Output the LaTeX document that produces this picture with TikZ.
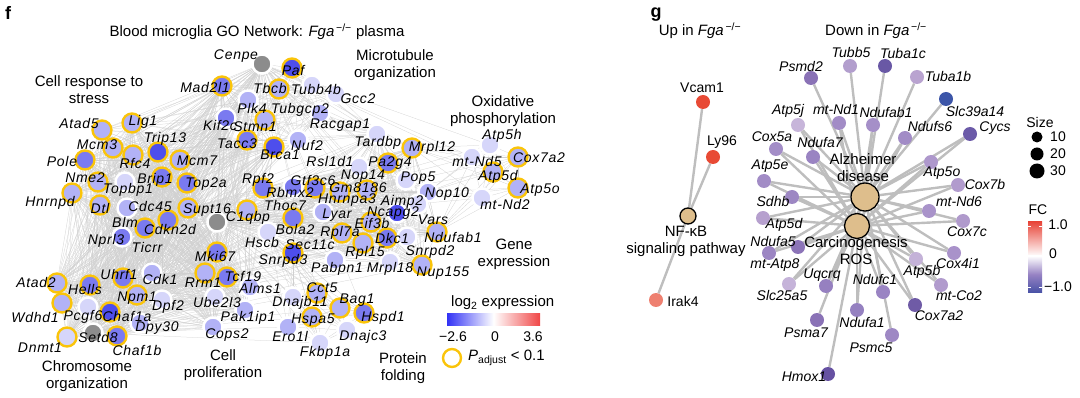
\documentclass[tikz,border=0pt]{standalone}
\usepackage{fontspec}
\setmainfont{Liberation Sans}
\newfontfamily\flab[LetterSpace=5]{Liberation Sans}
\usetikzlibrary{backgrounds}
\definecolor{fD}{RGB}{78,78,236}
\definecolor{fM}{RGB}{122,122,240}
\definecolor{fL}{RGB}{178,178,246}
\definecolor{fV}{RGB}{214,214,250}
\definecolor{fG}{RGB}{140,140,140}
\definecolor{ringY}{RGB}{250,196,10}
\definecolor{fe}{RGB}{208,208,208}
\definecolor{ge}{RGB}{190,190,190}
\definecolor{hubF}{RGB}{222,190,140}
\definecolor{lbB}{RGB}{50,50,245}
\definecolor{lbR}{RGB}{240,70,70}
\definecolor{fcR}{RGB}{232,70,58}
\definecolor{fcP}{RGB}{150,130,195}
\definecolor{fcB}{RGB}{70,80,165}
\newcommand\fnd[5]{\node[fnode,fill=#4,draw=#5] (#1) at (#2,#3) {};}
\newcommand\flb[3]{\node[flbl] (l-#1) at (#2,#3) {#1};}
\newcommand\gnd[4]{\definecolor{tmpc}{HTML}{#4}\node[gnode,fill=tmpc] (#1) at (#2,#3) {};}
\newcommand\glb[4]{\node[glbl] (l-#1) at (#3,#4) {#2};}
\newcommand\allpairs[1]{\foreach \a [count=\i] in {#1} {\foreach \b [count=\j] in {#1} {\ifnum\j>\i\relax \draw[fedge] (\a) -- (\b);\fi}}}
\newcommand\fanout[2]{\foreach \b in {#2} {\draw[fedge] (#1) -- (\b);}}
\begin{document}
\begin{tikzpicture}[x=1pt,y=-1pt,
  fnode/.style={circle,inner sep=0pt,minimum size=19pt,line width=2.4pt},
  flbl/.style={inner sep=0pt,font=\flab\itshape\fontsize{14}{14}\selectfont},
  glbl/.style={inner sep=0pt,font=\itshape\fontsize{14}{14}\selectfont},
  ulbl/.style={inner sep=0pt,font=\fontsize{14}{14}\selectfont},
  ttl/.style={inner sep=0pt,align=center,font=\fontsize{15}{17}\selectfont},
  gnode/.style={circle,inner sep=0pt,minimum size=14pt},
  hub/.style={circle,inner sep=0pt,fill=hubF,draw=black,line width=1.3pt},
  fedge/.style={draw=fe,line width=0.25pt},
  gedge/.style={draw=ge,line width=2.4pt}]
\useasboundingbox (0,0) rectangle (1080,398);
% ---------- panel f ----------
\node[inner sep=0pt,font=\bfseries\fontsize{18}{18}\selectfont] (pf) at (8,13) {f};
\node[ttl] (ftitle) at (257,32) {Blood microglia GO Network: \textit{Fga}\textsuperscript{\,−/−} plasma};
\fnd{Cenpe}{262}{64}{fG}{white}
\fnd{Mad2l1}{222}{86}{fM}{ringY}
\fnd{Paf}{292}{68}{fD}{ringY}
\fnd{Tbcb}{279}{89}{fL}{ringY}
\fnd{Tubb4b}{312}{85}{fV}{white}
\fnd{Gcc2}{336}{94}{fV}{white}
\fnd{Plk4}{248}{100}{fL}{white}
\fnd{Kif2c}{226}{118}{fM}{white}
\fnd{Tubgcp2}{320}{113}{fL}{white}
\fnd{Stmn1}{265}{120}{fL}{ringY}
\fnd{Tacc3}{247}{140}{fM}{ringY}
\fnd{Brca1}{274}{147}{fD}{ringY}
\fnd{Nuf2}{298}{140}{fL}{white}
\fnd{Tardbp}{377}{134}{fV}{white}
\fnd{Lig1}{132}{123}{fL}{ringY}
\fnd{Atad5}{102}{130}{fL}{ringY}
\fnd{Mcm3}{113}{148}{fL}{ringY}
\fnd{Trip13}{158}{152}{fD}{ringY}
\fnd{Rfc4}{133}{155}{fL}{ringY}
\fnd{Mcm7}{180}{160}{fL}{ringY}
\fnd{Pole}{85}{160}{fM}{ringY}
\fnd{Nme2}{98}{182}{fL}{ringY}
\fnd{Hnrnpd}{72}{193}{fL}{ringY}
\fnd{Topbp1}{125}{182}{fV}{white}
\fnd{Brip1}{162}{177}{fM}{ringY}
\fnd{Top2a}{187}{183}{fM}{ringY}
\fnd{Dtl}{100}{205}{fL}{ringY}
\fnd{Cdc45}{127}{208}{fL}{white}
\fnd{Cdkn2d}{168}{220}{fM}{ringY}
\fnd{Ticrr}{145}{228}{fM}{ringY}
\fnd{Nprl3}{122}{237}{fM}{white}
\fnd{Supt16}{188}{208}{fL}{ringY}
\fnd{hubc}{217}{222}{fG}{white}
\fnd{Mki67}{217}{252}{fM}{ringY}
\fnd{Atad2}{57}{283}{fL}{ringY}
\fnd{Hells}{90}{285}{fM}{ringY}
\fnd{Uhrf1}{123}{278}{fM}{ringY}
\fnd{Cdk1}{152}{273}{fL}{white}
\fnd{Npm1}{137}{295}{fL}{ringY}
\fnd{Dpf2}{162}{300}{fV}{white}
\fnd{Wdhd1}{62}{303}{fL}{ringY}
\fnd{Pcgf6}{88}{307}{fV}{white}
\fnd{Chaf1a}{110}{312}{fD}{ringY}
\fnd{Dpy30}{140}{323}{fL}{white}
\fnd{Dnmt1}{67}{337}{fV}{ringY}
\fnd{Setd8}{93}{333}{fG}{white}
\fnd{Chaf1b}{117}{336}{fM}{ringY}
\fnd{Rrm1}{205}{273}{fL}{ringY}
\fnd{Tcf19}{227}{277}{fM}{ringY}
\fnd{Alms1}{250}{287}{fL}{white}
\fnd{Ube2l3}{215}{297}{fV}{white}
\fnd{Pak1ip1}{245}{310}{fL}{white}
\fnd{Cops2}{213}{327}{fL}{white}
\fnd{Rpf2}{263}{188}{fM}{ringY}
\fnd{Rbmx2}{293}{187}{fM}{white}
\fnd{Gtf3c6}{315}{188}{fM}{ringY}
\fnd{C1qbp}{247}{210}{fL}{ringY}
\fnd{Bola2}{293}{218}{fM}{ringY}
\fnd{Hscb}{268}{232}{fV}{white}
\fnd{Sec11c}{293}{253}{fD}{ringY}
\fnd{Rsl1d1}{359}{167}{fV}{white}
\fnd{Pa2g4}{388}{163}{fM}{ringY}
\fnd{Mrpl12}{412}{148}{fL}{ringY}
\fnd{Pop5}{406}{180}{fV}{white}
\fnd{Nop10}{428}{192}{fL}{white}
\fnd{Gm8186}{367}{190}{fL}{ringY}
\fnd{Hnrnpa3}{340}{192}{fL}{ringY}
\fnd{Aimp2}{418}{204}{fV}{white}
\fnd{Ncapg2}{397}{213}{fD}{white}
\fnd{Lyar}{323}{212}{fL}{white}
\fnd{Eif3b}{371}{222}{fL}{ringY}
\fnd{Rpl7a}{342}{233}{fL}{ringY}
\fnd{Dkc1}{387}{238}{fM}{ringY}
\fnd{Rpl15}{363}{243}{fL}{ringY}
\fnd{Snrpd2}{407}{237}{fV}{white}
\fnd{Ndufab1}{437}{232}{fL}{ringY}
\fnd{Nup155}{422}{265}{fL}{ringY}
\fnd{Mrpl18}{390}{262}{fV}{white}
\fnd{Pabpn1}{335}{260}{fL}{white}
\fnd{Atp5h}{490}{145}{fV}{white}
\fnd{mt-Nd5}{472}{157}{fV}{white}
\fnd{Cox7a2}{518}{157}{fL}{ringY}
\fnd{Atp5d}{493}{172}{fL}{ringY}
\fnd{Atp5o}{518}{188}{fL}{ringY}
\fnd{mt-Nd2}{482}{198}{fV}{white}
\fnd{Cct5}{317}{293}{fL}{ringY}
\fnd{Dnajb11}{293}{297}{fV}{white}
\fnd{Bag1}{340}{308}{fL}{ringY}
\fnd{Hspd1}{364}{313}{fM}{ringY}
\fnd{Hspa5}{312}{317}{fL}{ringY}
\fnd{Ero1l}{288}{327}{fL}{white}
\fnd{Dnajc3}{347}{330}{fV}{white}
\fnd{Fkbp1a}{320}{343}{fV}{white}
% labels f
\flb{Cenpe}{236}{56}\flb{Mad2l1}{205}{88}\flb{Paf}{293}{70}\flb{Tbcb}{270}{88}
\flb{Tubb4b}{316}{89}\flb{Gcc2}{358}{99}\flb{Plk4}{252}{108}\flb{Kif2c}{220}{125}
\flb{Tubgcp2}{300}{110}\flb{Stmn1}{255}{127}\flb{Tacc3}{237}{144}\flb{Brca1}{280}{155}
\flb{Nuf2}{307}{145}\flb{Racgap1}{340}{125}\flb{Tardbp}{378}{143}\flb{Mrpl12}{432}{148}
\flb{Lig1}{143}{122}\flb{Atad5}{79}{124}\flb{Mcm3}{97}{145}\flb{Trip13}{165}{139}
\flb{Rfc4}{135}{163}\flb{Mcm7}{197}{161}\flb{Pole}{62}{161}\flb{Nme2}{85}{178}
\flb{Hnrnpd}{50}{203}\flb{Topbp1}{128}{190}\flb{Brip1}{155}{180}\flb{Top2a}{206}{184}
\flb{Dtl}{100}{208}\flb{Cdc45}{150}{207}\flb{Blm}{125}{222}\flb{Cdkn2d}{170}{230}
\flb{Nprl3}{106}{241}\flb{Ticrr}{147}{247}\flb{Supt16}{207}{210}\flb{Mki67}{215}{256}
\flb{Atad2}{36}{283}\flb{Hells}{85}{289}\flb{Uhrf1}{119}{274}\flb{Cdk1}{160}{280}
\flb{Npm1}{137}{298}\flb{Dpf2}{168}{307}\flb{Wdhd1}{35}{317}\flb{Pcgf6}{83}{317}
\flb{Chaf1a}{127}{316}\flb{Dpy30}{157}{328}\flb{Dnmt1}{40}{348}\flb{Setd8}{98}{338}
\flb{Chaf1b}{137}{350}\flb{Rrm1}{203}{283}\flb{Tcf19}{243}{276}\flb{Alms1}{260}{288}
\flb{Ube2l3}{217}{302}\flb{Pak1ip1}{248}{318}\flb{Cops2}{227}{335}
\flb{Rpf2}{258}{180}\flb{Rbmx2}{290}{192}\flb{Gtf3c6}{313}{180}\flb{C1qbp}{248}{218}
\flb{Thoc7}{285}{205}\flb{Bola2}{295}{229}\flb{Hscb}{262}{242}\flb{Sec11c}{310}{245}
\flb{Snrpd3}{283}{261}\flb{Rsl1d1}{330}{162}\flb{Pa2g4}{390}{163}\flb{Nop14}{363}{176}
\flb{Pop5}{418}{178}\flb{Gm8186}{358}{188}\flb{Hnrnpa3}{347}{200}\flb{Aimp2}{402}{202}
\flb{Nop10}{447}{194}\flb{Lyar}{337}{215}\flb{Ncapg2}{393}{213}\flb{Eif3b}{372}{223}
\flb{Vars}{433}{220}\flb{Rpl7a}{340}{233}\flb{Dkc1}{392}{238}\flb{Rpl15}{365}{253}
\flb{Snrpd2}{430}{252}\flb{Ndufab1}{453}{238}\flb{Nup155}{443}{273}\flb{Mrpl18}{390}{269}
\flb{Pabpn1}{337}{269}\flb{Atp5h}{502}{136}\flb{mt-Nd5}{477}{162}\flb{Cox7a2}{539}{158}
\flb{Atp5d}{498}{177}\flb{Atp5o}{540}{190}\flb{mt-Nd2}{505}{205}
\flb{Cct5}{322}{288}\flb{Dnajb11}{300}{303}\flb{Bag1}{357}{300}\flb{Hspd1}{383}{318}
\flb{Hspa5}{313}{320}\flb{Ero1l}{290}{336}\flb{Dnajc3}{363}{337}\flb{Fkbp1a}{325}{353}
% cluster titles
\node[ttl] (tstress) at (89,90) {Cell response to\\stress};
\node[ttl] (tmicro) at (395,65) {Microtubule\\organization};
\node[ttl] (toxi) at (503,111) {Oxidative\\phosphorylation};
\node[ttl] (tgene) at (514,254) {Gene\\expression};
\node[ttl] (tprot) at (403,368) {Protein\\folding};
\node[ttl] (tprol) at (223,365) {Cell\\proliferation};
\node[ttl] (tchrom) at (87,376) {Chromosome\\organization};
% legend f
\node[ttl,anchor=west] (llog) at (451,303) {log\textsubscript{2} expression};
\shade[left color=lbB,right color=lbR,middle color=white] (447,314) rectangle (540,326);
\node[ulbl] (l26) at (453,337) {−2.6};
\node[ulbl] (l0) at (495,337) {0};
\node[ulbl] (l36) at (533,337) {3.6};
\node[circle,inner sep=0pt,minimum size=18pt,draw=ringY,line width=2.4pt,fill=white] (lring) at (452,358) {};
\node[ttl,anchor=west] (lpadj) at (468,358) {\textit{P}\textsubscript{adjust} < 0.1};
% ---------- panel g ----------
\node[inner sep=0pt,font=\bfseries\fontsize{18}{18}\selectfont] (pg) at (656,15) {g};
\node[ttl] (tup) at (700,31) {Up in \textit{Fga}\textsuperscript{\,−/−}};
\node[ttl] (tdown) at (876,31) {Down in \textit{Fga}\textsuperscript{\,−/−}};
\node[hub,minimum size=16pt] (NFkB) at (688,216) {};
\node[ttl] (lNFkB) at (686,241) {NF-κB\\signaling pathway};
\gnd{gVcam1}{703}{102}{E84A35}\gnd{gLy96}{713}{157}{E84A35}\gnd{gIrak4}{656}{300}{EE8070}
\node[ulbl] (l-gVcam1) at (702,88) {Vcam1};
\node[ulbl] (l-gLy96) at (722,142) {Ly96};
\node[ulbl] (l-gIrak4) at (683,301) {Irak4};
\node[hub,minimum size=28pt] (AD) at (865,197) {};
\node[hub,minimum size=25pt] (CR) at (857,226) {};
\node[ttl] (lAD) at (863,168) {Alzheimer\\disease};
\node[ttl] (lCR) at (856,251) {Carcinogenesis\\ROS};
\gnd{gTubb5}{850}{66}{B29ECD}\gnd{gTuba1c}{885}{66}{6958A5}\gnd{gPsmd2}{811}{78}{8A72B6}
\gnd{gTuba1b}{917}{77}{B9A3D0}\gnd{gSlc39a14}{946}{99}{3C55A8}\gnd{gCycs}{970}{134}{6B5AA8}
\gnd{gAtp5j}{798}{125}{C7B5DA}\gnd{gmtNd1}{839}{123}{A28CC6}\gnd{gNdufab1}{873}{125}{A58FC8}
\gnd{gNdufs6}{905}{138}{A28CC6}\gnd{gCox5a}{776}{149}{A38DC7}\gnd{gNdufa7}{813}{157}{9A84C2}
\gnd{gAtp5o}{931}{162}{AE98CC}\gnd{gAtp5e}{764}{181}{A28CC6}\gnd{gCox7b}{958}{185}{B19BCD}
\gnd{gSdhb}{792}{197}{9D87C3}\gnd{gmtNd6}{929}{211}{A993CA}\gnd{gAtp5d}{763}{218}{B6A0CE}
\gnd{gCox7c}{963}{221}{B09ACC}\gnd{gNdufa5}{798}{247}{8C74B8}\gnd{gmtAtp8}{769}{253}{9C86C3}
\gnd{gCox4i1}{954}{253}{A992CA}\gnd{gAtp5b}{916}{259}{C4B2D8}\gnd{gUqcrq}{826}{286}{9680C0}
\gnd{gSlc25a5}{789}{284}{C5B3D9}\gnd{gNdufc1}{883}{292}{9A84C3}\gnd{gmtCo2}{941}{285}{B19BCD}
\gnd{gCox7a2}{915}{305}{6F5BA6}\gnd{gNdufa1}{857}{310}{9581C0}\gnd{gPsma7}{817}{320}{8A72B6}
\gnd{gPsmc5}{892}{335}{9E88C4}\gnd{gHmox1}{828}{374}{6651A2}
\glb{gTubb5}{Tubb5}{851}{52}\glb{gTuba1c}{Tuba1c}{903}{53}\glb{gPsmd2}{Psmd2}{801}{67}
\glb{gTuba1b}{Tuba1b}{948}{76}\glb{gSlc39a14}{Slc39a14}{975}{111}\glb{gCycs}{Cycs}{995}{128}
\glb{gAtp5j}{Atp5j}{788}{111}\glb{gmtNd1}{mt-Nd1}{836}{110}\glb{gNdufab1}{Ndufab1}{886}{113}
\glb{gNdufs6}{Ndufs6}{930}{127}\glb{gCox5a}{Cox5a}{772}{137}\glb{gNdufa7}{Ndufa7}{820}{143}
\glb{gAtp5o}{Atp5o}{942}{173}\glb{gAtp5e}{Atp5e}{770}{166}\glb{gCox7b}{Cox7b}{985}{184}
\glb{gSdhb}{Sdhb}{773}{202}\glb{gmtNd6}{mt-Nd6}{959}{202}\glb{gAtp5d}{Atp5d}{784}{225}
\glb{gCox7c}{Cox7c}{967}{232}\glb{gNdufa5}{Ndufa5}{773}{242}\glb{gmtAtp8}{mt-Atp8}{775}{265}
\glb{gCox4i1}{Cox4i1}{958}{263}\glb{gAtp5b}{Atp5b}{922}{272}\glb{gUqcrq}{Uqcrq}{822}{275}
\glb{gSlc25a5}{Slc25a5}{782}{295}\glb{gNdufc1}{Ndufc1}{875}{280}\glb{gmtCo2}{mt-Co2}{959}{296}
\glb{gCox7a2}{Cox7a2}{939}{316}\glb{gNdufa1}{Ndufa1}{862}{323}\glb{gPsma7}{Psma7}{806}{333}
\glb{gPsmc5}{Psmc5}{871}{348}\glb{gHmox1}{Hmox1}{804}{377}
% legend g
\node[ulbl] (lsize) at (1040,122) {Size};
\node[circle,inner sep=0pt,minimum size=11pt,fill=black] (s10) at (1037,137) {};
\node[circle,inner sep=0pt,minimum size=13pt,fill=black] (s20) at (1037,154) {};
\node[circle,inner sep=0pt,minimum size=15pt,fill=black] (s30) at (1037,171) {};
\node[ulbl] (l10) at (1058,137) {10};
\node[ulbl] (l20) at (1058,154) {20};
\node[ulbl] (l30) at (1058,171) {30};
\node[ulbl] (lfc) at (1038,210) {FC};
\shade[top color=fcR,bottom color=white] (1028,222) rectangle (1042,256);
\shade[top color=white,bottom color=fcB,middle color=fcP] (1028,256) rectangle (1042,293);
\foreach \yy in {226,256,287} {\draw[white,line width=0.8pt] (1028,\yy) -- (1031,\yy) (1039,\yy) -- (1042,\yy);}
\node[ulbl] (lfc1) at (1058,225) {1.0};
\node[ulbl] (lfc0) at (1053,254) {0};
\node[ulbl] (lfcm) at (1058,287) {−1.0};
% ---------- edges ----------
\begin{pgfonlayer}{background}
\allpairs{Cenpe,Mad2l1,Kif2c,Plk4,Tacc3,Brca1,Lig1,Atad5,Mcm3,Trip13,Rfc4,Mcm7,Pole,Nme2,Hnrnpd,Topbp1,Brip1,Top2a,Dtl,Cdc45,Cdkn2d,Ticrr,Nprl3,Supt16,hubc,Mki67,Atad2,Hells,Uhrf1,Cdk1,Npm1,Dpf2,Wdhd1,Pcgf6,Chaf1a,Dpy30,Dnmt1,Setd8,Chaf1b,Rrm1,Tcf19,Alms1,Ube2l3,Pak1ip1,Cops2}
\allpairs{Cenpe,Paf,Tbcb,Tubb4b,Gcc2,Plk4,Tubgcp2,Stmn1,Tardbp,Nuf2,Kif2c,Mad2l1,Tacc3,Brca1}
\allpairs{hubc,Rpf2,Rbmx2,Gtf3c6,C1qbp,Bola2,Hscb,Sec11c,Rsl1d1,Pa2g4,Mrpl12,Pop5,Nop10,Gm8186,Hnrnpa3,Aimp2,Ncapg2,Lyar,Eif3b,Rpl7a,Dkc1,Rpl15,Snrpd2,Ndufab1,Nup155,Mrpl18,Pabpn1,Npm1,Supt16,Tardbp}
\allpairs{Atp5h,mt-Nd5,Cox7a2,Atp5d,Atp5o,mt-Nd2,Ndufab1,Mrpl12,Nop10}
\allpairs{Cct5,Dnajb11,Bag1,Hspd1,Hspa5,Ero1l,Dnajc3,Fkbp1a,hubc,Hscb,Sec11c}
\fanout{hubc}{Paf,Tbcb,Tubb4b,Gcc2,Tubgcp2,Stmn1,Nuf2,Atp5h,mt-Nd5,Cox7a2,Atp5d,Atp5o,mt-Nd2}
\fanout{Cenpe}{Rpf2,Rbmx2,Gtf3c6,Rsl1d1,Pa2g4,Mrpl12,Pop5,Nop10,Gm8186,Ncapg2,Dkc1,Nup155,Atp5h,mt-Nd5,Atp5d,Cct5,Hspd1}
\fanout{Setd8}{Rpf2,Bola2,Sec11c,Dkc1,Rpl15,Nup155,Mrpl18,Pabpn1,Cct5,Bag1,Hspa5,Ero1l,Fkbp1a}
\foreach \n in {gVcam1,gLy96,gIrak4} {\draw[gedge] (\n) -- (NFkB);}
\foreach \n in {gTubb5,gTuba1c,gPsmd2,gTuba1b,gSlc39a14,gCycs,gAtp5j,gmtNd1,gNdufab1,gNdufs6,gCox5a,gNdufa7,gAtp5o,gAtp5e,gCox7b,gSdhb,gmtNd6,gAtp5d,gCox7c,gNdufa5,gmtAtp8,gCox4i1,gAtp5b,gUqcrq,gSlc25a5,gNdufc1,gmtCo2,gCox7a2,gNdufa1,gPsma7,gPsmc5} {\draw[gedge] (\n) -- (AD);}
\foreach \n in {gCycs,gAtp5j,gmtNd1,gNdufab1,gNdufs6,gCox5a,gNdufa7,gAtp5o,gAtp5e,gCox7b,gSdhb,gmtNd6,gAtp5d,gCox7c,gNdufa5,gmtAtp8,gCox4i1,gAtp5b,gUqcrq,gSlc25a5,gNdufc1,gmtCo2,gCox7a2,gNdufa1,gHmox1} {\draw[gedge] (\n) -- (CR);}
\end{pgfonlayer}
\end{tikzpicture}
\end{document}
